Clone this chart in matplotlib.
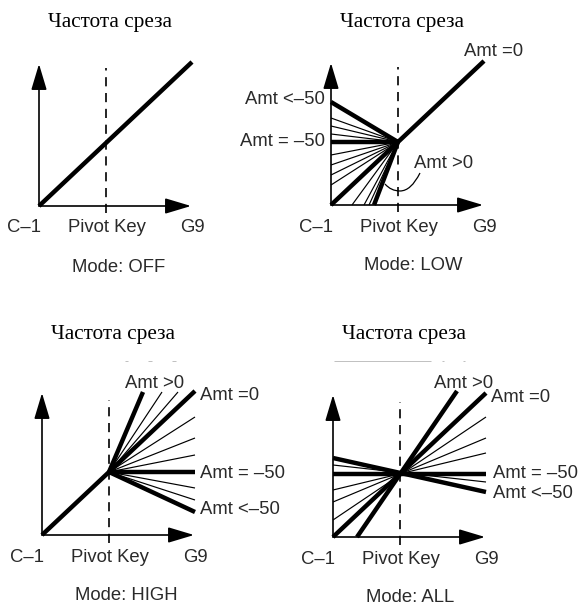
import numpy as np
import matplotlib.pyplot as plt
from matplotlib.path import Path
from matplotlib.patches import PathPatch

# All coordinates are in "chart units" (1 unit ~ 1 px), measured from each panel's origin
W, H = 582, 606

pivot = (67, 63)
x_axis_len = 152
y_axis_len = 142

title = "Частота среза"
key_labels = ["C–1", "Pivot Key", "G9"]
key_pos = [-15, 68, 153]
modes = ["Mode: OFF", "Mode: LOW", "Mode: HIGH", "Mode: ALL"]

# panel origins in pixels (x from left, y from top)
origins = [(39, 206), (331, 205), (42, 535), (333, 537)]
title_y = [184, 183, 200, 202]

# Mode OFF
off_thick = [((0, 0), (153, 144))]

# Mode LOW: lines into the pivot from the axes, Amt=0 continues above pivot
low_y_ends_thick = [103, 63, 0]
low_y_ends_thin = [87, 79, 71, 50, 40, 30, 20]
low_x_ends_thick = [43]
low_x_ends_thin = [21, 33, 38]
low_upper = (153, 144)

# Mode HIGH: lines out of the pivot to the right
high_ends_thick = [(101, 143), (153, 144), (153, 63), (153, 23)]
high_ends_thin = [(120, 143), (136, 143), (153, 118), (153, 97), (153, 80), (153, 47), (153, 35)]

# Mode ALL: full lines through the pivot (start, end)
all_thick = [((0, 0), (153, 144)), ((24, 0), (124, 146)), ((0, 63), (153, 63)), ((0, 79), (153, 45))]
all_thin = [((0, 47), (153, 84)), ((0, 35), (153, 99)), ((0, 17), (153, 120)), ((0, 72), (153, 55))]

# "Amt" annotations: (text, x, y, ha)
amt_low = [("Amt =0", 133, 153, "left"), ("Amt <–50", -6, 106, "right"),
           ("Amt = –50", -6, 63, "right"), ("Amt >0", 83, 42, "left")]
amt_high = [("Amt >0", 113, 152, "center"), ("Amt =0", 158, 139, "left"),
            ("Amt = –50", 158, 62, "left"), ("Amt <–50", 158, 25, "left")]
amt_all = [("Amt >0", 131, 154, "center"), ("Amt =0", 158, 139, "left"),
           ("Amt = –50", 160, 64, "left"), ("Amt <–50", 160, 44, "left")]

# leader curve in LOW panel
leader = [(89, 32), (80, 14), (69, 14), (60, 14), (54, 21)]

# faint remnants at the top of lower panels
faint_high = [((83, 174), (86, 174)), ((106, 174), (110, 174)), ((130, 174), (134, 174))]
faint_all = [((1, 176), (98, 176)), ((109, 176), (111, 176)), ((130, 176), (132, 176))]

THICK = 3.2
THIN = 0.85
SANS = "Liberation Sans"
SERIF = "Liberation Serif"
TXT = "#2a2a2a"
FAINT = "#b5b5b5"

fig = plt.figure(figsize=(W / 100, H / 100), dpi=100)


def make_panel(ox, oy):
    ax = fig.add_axes([0, 0, 1, 1])
    ax.set_xlim(-ox, W - ox)
    ax.set_ylim(oy - H, oy)
    ax.axis("off")
    ax.patch.set_alpha(0)
    return ax


def seg(ax, a, b, lw, color="k"):
    ax.plot([a[0], b[0]], [a[1], b[1]], color=color, lw=lw, solid_capstyle="butt")


def frame(ax, i, dash_bottom, dash_top):
    arrow = dict(arrowstyle="-|>,head_length=1.0,head_width=0.3", color="k",
                 lw=1.2, shrinkA=0, shrinkB=0, mutation_scale=16)
    ax.annotate("", xy=(0, y_axis_len), xytext=(0, 0), arrowprops=arrow)
    ax.annotate("", xy=(x_axis_len, 0), xytext=(0, 0), arrowprops=arrow)
    ax.plot([pivot[0], pivot[0]], [dash_bottom, dash_top], color="k", lw=1.2,
            dashes=(5.5, 4))
    for lab, x in zip(key_labels, key_pos):
        ax.text(x, -22, lab, ha="center", va="center", fontsize=13.3,
                family=SANS, color=TXT)
    ax.text(33, -61, modes[i], ha="left", va="center", fontsize=13.3,
            family=SANS, color=TXT)
    ax.text(71, title_y[i], title, ha="center", va="center", fontsize=15.3,
            family=SERIF, color="k")


def amt_texts(ax, items):
    for t, x, y, ha in items:
        ax.text(x, y, t, ha=ha, va="center", fontsize=13.3, family=SANS, color=TXT)


axes = [make_panel(*o) for o in origins]

# OFF
ax = axes[0]
frame(ax, 0, -7, 138)
for a, b in off_thick:
    seg(ax, a, b, THICK)

# LOW
ax = axes[1]
frame(ax, 1, -7, 138)
for y in low_y_ends_thin:
    seg(ax, (0, y), pivot, THIN)
for x in low_x_ends_thin:
    seg(ax, (x, 0), pivot, THIN)
for y in low_y_ends_thick:
    seg(ax, (0, y), pivot, THICK)
for x in low_x_ends_thick:
    seg(ax, (x, 0), pivot, THICK)
seg(ax, pivot, low_upper, THICK)
amt_texts(ax, amt_low)
codes = [Path.MOVETO, Path.CURVE3, Path.CURVE3, Path.CURVE3, Path.CURVE3]
ax.add_patch(PathPatch(Path(leader, codes), fill=False, lw=0.9, color="k"))

# HIGH
ax = axes[2]
frame(ax, 2, -8, 135)
seg(ax, (0, 0), pivot, THICK)
for e in high_ends_thin:
    seg(ax, pivot, e, THIN)
for e in high_ends_thick:
    seg(ax, pivot, e, THICK)
amt_texts(ax, amt_high)
for a, b in faint_high:
    seg(ax, a, b, 0.6, FAINT)

# ALL
ax = axes[3]
frame(ax, 3, -8, 135)
for a, b in all_thin:
    seg(ax, a, b, THIN)
for a, b in all_thick:
    seg(ax, a, b, THICK)
amt_texts(ax, amt_all)
for a, b in faint_all:
    seg(ax, a, b, 0.6, FAINT)

fig.savefig("out.png", dpi=100)
